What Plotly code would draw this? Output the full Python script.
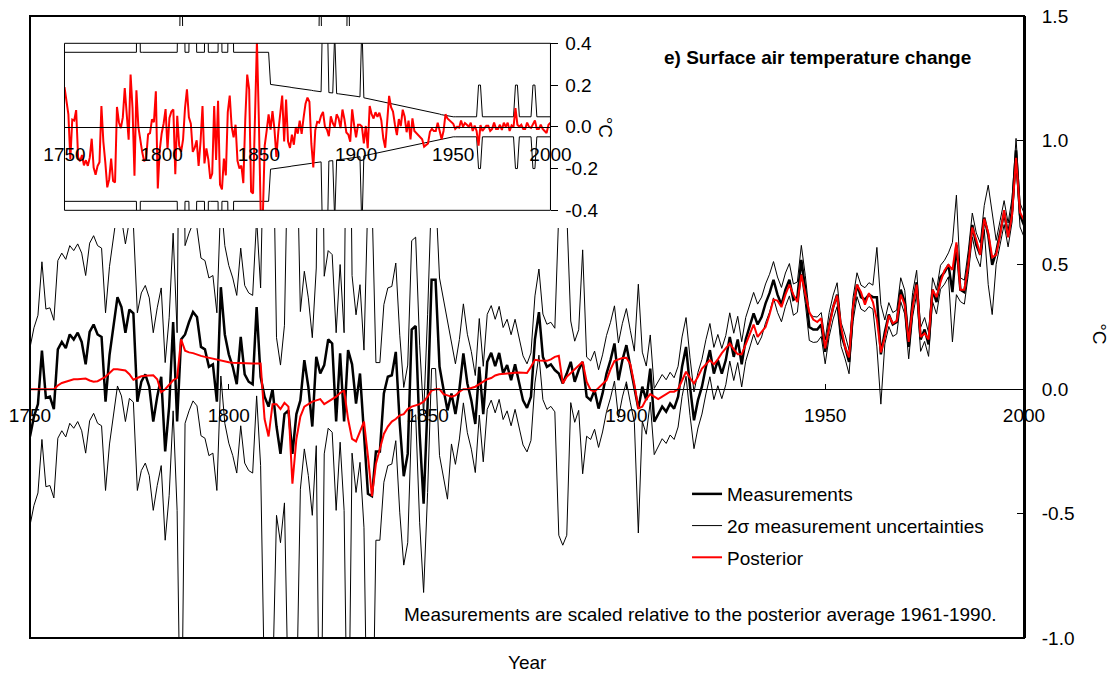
import plotly.graph_objects as go

# ---------------- data ----------------
years = list(range(1750, 2001))

measurement = [
    -0.19, -0.11, -0.06, 0.155, -0.035, -0.03, -0.08, 0.16, 0.19, 0.165,      # 1750s
    0.22, 0.20, 0.227, 0.19, 0.10, 0.23, 0.26, 0.22, 0.21, -0.05,             # 1760s
    0.137, 0.25, 0.37, 0.33, 0.227, 0.32, 0.305, -0.05, 0.03, 0.06,           # 1770s
    0.01, -0.13, -0.03, 0.05, -0.25, -0.07, 0.27, -0.13, 0.20, 0.22,          # 1780s
    0.27, 0.31, 0.29, 0.17, 0.16, 0.09, 0.10, -0.05, 0.41, 0.22,              # 1790s
    0.14, 0.09, 0.02, 0.21, 0.06, 0.03, 0.02, 0.33, 0.05, -0.03,              # 1800s
    -0.07, 0.00, -0.15, -0.26, -0.10, -0.085, -0.26, -0.10, -0.045, 0.117,    # 1810s
    0.01, -0.15, 0.13, 0.063, 0.097, 0.20, 0.184, -0.13, 0.144, -0.13,        # 1820s
    0.157, 0.10, -0.058, 0.063, -0.20, -0.42, -0.43, -0.25, -0.25, -0.017,    # 1830s
    0.05, 0.056, 0.15, -0.14, -0.35, -0.26, 0.24, 0.254, -0.18, -0.46,        # 1840s
    -0.058, 0.44, 0.44, 0.09, 0.00, -0.085, -0.017, -0.10, 0.00, 0.144,       # 1850s
    0.023, -0.045, -0.14, 0.09, -0.10, 0.11, 0.146, 0.093, 0.146, 0.063,      # 1860s
    0.097, 0.036, 0.10, 0.023, -0.045, -0.075, -0.03, 0.20, 0.31, 0.13,       # 1870s
    0.09, 0.10, 0.077, 0.063, 0.023, 0.063, 0.11, 0.03, 0.077, 0.11,         # 1880s
    -0.03, -0.044, -0.004, -0.078, -0.017, 0.063, 0.117, 0.184, 0.036, 0.117, # 1890s
    0.177, 0.09, 0.01, -0.078, 0.01, -0.044, 0.083, -0.13, -0.10, -0.07,      # 1900s
    -0.09, -0.058, -0.078, -0.03, 0.09, 0.17, 0.01, -0.125, -0.044, 0.01,     # 1910s
    0.09, 0.157, 0.063, 0.117, 0.063, 0.117, 0.21, 0.13, 0.20, 0.10,          # 1920s
    0.20, 0.25, 0.305, 0.26, 0.29, 0.345, 0.386, 0.44, 0.38, 0.34,            # 1930s
    0.40, 0.44, 0.36, 0.37, 0.52, 0.40, 0.25, 0.24, 0.24, 0.26,               # 1940s
    0.15, 0.26, 0.33, 0.38, 0.22, 0.17, 0.11, 0.32, 0.42, 0.37,               # 1950s
    0.36, 0.38, 0.37, 0.37, 0.14, 0.23, 0.30, 0.26, 0.27, 0.40,               # 1960s
    0.35, 0.17, 0.34, 0.43, 0.20, 0.24, 0.18, 0.40, 0.35, 0.45,               # 1970s
    0.47, 0.50, 0.39, 0.58, 0.40, 0.39, 0.51, 0.66, 0.58, 0.54,               # 1980s
    0.69, 0.62, 0.50, 0.55, 0.63, 0.71, 0.62, 0.72, 0.96, 0.70,               # 1990s
    0.66,                                                                      # 2000
]

posterior = [
    0.0, 0.0, 0.0, 0.0, 0.0, 0.0, 0.0, 0.015, 0.025, 0.03,
    0.035, 0.04, 0.04, 0.042, 0.043, 0.035, 0.03, 0.032, 0.04, 0.05,
    0.065, 0.08, 0.08, 0.078, 0.075, 0.06, 0.038, 0.045, 0.052, 0.054,
    0.055, 0.056, 0.04, -0.012, 0.0, 0.02, 0.036, 0.045, 0.2, 0.155,
    0.148, 0.145, 0.138, 0.134, 0.13, 0.126, 0.122, 0.12, 0.115, 0.11,
    0.108, 0.106, 0.105, 0.104, 0.103, 0.103, 0.103, 0.103, 0.103, -0.12,
    -0.19, -0.06, -0.06, -0.08, -0.055, -0.07, -0.38, -0.2, -0.11, -0.07,
    -0.06, -0.05, -0.045, -0.04, -0.06, -0.05, -0.04, -0.03, -0.015, -0.005,
    -0.12, -0.2, -0.21, -0.17, -0.13, -0.27, -0.43, -0.3, -0.24, -0.18,
    -0.15, -0.13, -0.12, -0.105, -0.1, -0.08, -0.07, -0.065, -0.06, -0.05,
    -0.03, -0.005, 0.0, 0.0, -0.02, -0.025, -0.03, -0.025, -0.01, 0.0,
    0.0, 0.005, 0.01, 0.02, 0.03, 0.04, 0.045, 0.055, 0.06, 0.062,
    0.064, 0.065, 0.066, 0.067, 0.066, 0.065, 0.09, 0.118, 0.115, 0.113,
    0.114, 0.12, 0.13, 0.134, 0.023, 0.05, 0.065, 0.08, 0.095, 0.11,
    0.03, -0.003, -0.01, 0.005, 0.02, 0.036, 0.08, 0.113, 0.12, 0.125,
    0.126, 0.1, 0.02, -0.077, -0.07, -0.04, -0.02, -0.03, -0.04, -0.03,
    -0.02, -0.01, -0.01, 0.0, 0.035, 0.07, 0.045, 0.023, 0.05, 0.083,
    0.1, 0.117, 0.1, 0.12, 0.145, 0.165, 0.184, 0.16, 0.14, 0.14,
    0.18, 0.22, 0.26, 0.21, 0.23, 0.25, 0.3, 0.36, 0.356, 0.33,
    0.38, 0.42, 0.38, 0.35, 0.46, 0.38, 0.31, 0.28, 0.27, 0.285,
    0.164, 0.25, 0.33, 0.376, 0.25, 0.17, 0.128, 0.33, 0.42, 0.39,
    0.34, 0.386, 0.35, 0.28, 0.148, 0.21, 0.296, 0.265, 0.275, 0.38,
    0.34, 0.19, 0.33, 0.42, 0.21, 0.225, 0.2, 0.4, 0.37, 0.43,
    0.477, 0.5, 0.48, 0.59, 0.4, 0.4, 0.5, 0.65, 0.6, 0.54,
    0.685, 0.63, 0.53, 0.54, 0.62, 0.72, 0.61, 0.70, 0.93, 0.71,
    0.68,
]

# 2-sigma half width of the measurement uncertainty
uncert_2sigma = [
    0.357, 0.357, 0.357, 0.357, 0.357, 0.357, 0.357, 0.357, 0.357, 0.357,
    0.357, 0.357, 0.357, 0.357, 0.357, 0.357, 0.357, 0.357, 0.357, 0.357,
    0.357, 0.357, 0.357, 0.357, 0.357, 0.357, 0.357, 0.357, 0.357, 0.357,
    0.357, 0.357, 0.357, 0.357, 0.357, 0.357, 0.357, 0.357, 1.8, 0.357,
    0.357, 0.357, 0.357, 0.357, 0.357, 0.357, 0.357, 0.357, 0.357, 0.357,
    0.357, 0.357, 0.357, 0.357, 0.357, 0.357, 0.357, 0.357, 0.357, 1.2,
    1.2, 1.2, 0.357, 0.357, 0.357, 1.2, 1.2, 1.2, 0.357, 0.357,
    0.357, 0.357, 0.357, 1.8, 0.357, 0.357, 0.357, 0.357, 0.357, 0.357,
    1.8, 0.357, 0.357, 0.357, 0.357, 1.2, 1.2, 0.357, 0.357, 0.357,
    0.357, 0.357, 0.357, 0.357, 0.357, 0.357, 0.357, 0.357, 0.357, 0.357,
    0.357, 0.357, 0.357, 0.357, 0.357, 0.357, 0.203, 0.202, 0.200, 0.199,
    0.198, 0.196, 0.195, 0.194, 0.192, 0.191, 0.190, 0.188, 0.187, 0.185,
    0.184, 0.183, 0.181, 0.180, 0.179, 0.177, 0.176, 0.175, 0.173, 0.172,
    0.171, 0.169, 0.168, 0.65, 0.65, 0.65, 0.164, 0.163, 0.162, 0.45,
    0.159, 0.158, 0.157, 0.156, 0.155, 0.153, 0.152, 0.151, 0.150, 0.148,
    0.147, 0.145, 0.143, 0.5, 0.139, 0.137, 0.135, 0.133, 0.131, 0.129,
    0.128, 0.126, 0.124, 0.122, 0.120, 0.118, 0.116, 0.114, 0.112, 0.110,
    0.109, 0.107, 0.105, 0.103, 0.101, 0.099, 0.097, 0.095, 0.093, 0.091,
    0.088, 0.086, 0.084, 0.082, 0.080, 0.078, 0.076, 0.073, 0.071, 0.069,
    0.067, 0.065, 0.063, 0.061, 0.058, 0.056, 0.054, 0.052, 0.050, 0.048,
    0.048, 0.048, 0.048, 0.048, 0.048, 0.048, 0.048, 0.048, 0.048, 0.048,
    0.048, 0.048, 0.048, 0.2, 0.2, 0.048, 0.048, 0.048, 0.048, 0.048,
    0.048, 0.048, 0.048, 0.048, 0.048, 0.048, 0.048, 0.048, 0.048, 0.048,
    0.048, 0.048, 0.2, 0.2, 0.048, 0.048, 0.048, 0.048, 0.048, 0.048,
    0.048, 0.2, 0.2, 0.048, 0.048, 0.048, 0.048, 0.048, 0.048, 0.048,
    0.048,
]

x_ticks = [1750, 1800, 1850, 1900, 1950, 2000]
main_y_ticks = [-1.0, -0.5, 0.0, 0.5, 1.0, 1.5]
main_y_labels = ["-1.0", "-0.5", "0.0", "0.5", "1.0", "1.5"]
inset_y_ticks = [-0.4, -0.2, 0.0, 0.2, 0.4]
inset_y_labels = ["-0.4", "-0.2", "0.0", "0.2", "0.4"]

# derived series
upper = [m + u for m, u in zip(measurement, uncert_2sigma)]
lower = [m - u for m, u in zip(measurement, uncert_2sigma)]
neg_unc = [-u for u in uncert_2sigma]
residual = [p - m for p, m in zip(posterior, measurement)]

FONT = "Liberation Sans, Arial, sans-serif"
FS = 19

fig = go.Figure()

# main panel
fig.add_trace(go.Scatter(x=years, y=upper, mode="lines", name="2σ measurement uncertainties",
                         legendgroup="unc", legendrank=2,
                         line=dict(color="black", width=1)))
fig.add_trace(go.Scatter(x=years, y=lower, mode="lines", showlegend=False, legendgroup="unc",
                         line=dict(color="black", width=1)))
fig.add_trace(go.Scatter(x=years, y=measurement, mode="lines", name="Measurements",
                         legendgroup="meas", legendrank=1,
                         line=dict(color="black", width=2.5)))
fig.add_trace(go.Scatter(x=years, y=posterior, mode="lines", name="Posterior",
                         legendgroup="post", legendrank=3,
                         line=dict(color="#ff0000", width=2)))

# inset panel
fig.add_trace(go.Scatter(x=years, y=uncert_2sigma, mode="lines", xaxis="x3", yaxis="y3",
                         showlegend=False, line=dict(color="black", width=1)))
fig.add_trace(go.Scatter(x=years, y=neg_unc, mode="lines", xaxis="x3", yaxis="y3",
                         showlegend=False, line=dict(color="black", width=1)))
fig.add_trace(go.Scatter(x=years, y=residual, mode="lines", xaxis="x3", yaxis="y3",
                         showlegend=False, line=dict(color="#ff0000", width=2)))

fig.update_layout(
    template="none",
    width=1114, height=677,
    margin=dict(l=30, r=90, t=16, b=39, autoexpand=False),
    paper_bgcolor="white", plot_bgcolor="white",
    font=dict(family=FONT, size=FS, color="black"),
    showlegend=True,
    legend=dict(x=0.661, y=0.262, xanchor="left", yanchor="top",
                bgcolor="rgba(0,0,0,0)", borderwidth=0,
                traceorder="grouped", tracegroupgap=4,
                font=dict(family=FONT, size=FS, color="black")),
    xaxis=dict(domain=[0, 1], range=[1750, 2000], anchor="free", position=0.4,
               automargin=False,
               showline=True, linecolor="black", linewidth=1,
               ticks="inside", ticklen=5, tickcolor="black",
               tickvals=x_ticks, ticktext=[str(t) for t in x_ticks],
               showgrid=False, zeroline=False, ticklabelstandoff=9),
    yaxis=dict(domain=[0, 1], range=[-1.0, 1.5], side="right", anchor="x",
               automargin=False,
               showline=True, linecolor="black", linewidth=2,
               ticks="inside", ticklen=7, tickcolor="black",
               tickvals=main_y_ticks, ticktext=main_y_labels,
               showgrid=False, zeroline=False, ticklabelstandoff=12),
    # white mask behind the inset
    xaxis2=dict(domain=[0.002, 0.5734], range=[0, 1], anchor="y2", visible=False,
                automargin=False),
    yaxis2=dict(domain=[0.6592, 0.9839], range=[0, 1], anchor="x2", visible=False,
                automargin=False),
    # inset axes
    xaxis3=dict(domain=[0.0347, 0.5236], range=[1750, 2000], anchor="free", position=0.822,
                automargin=False,
                showline=True, linecolor="black", linewidth=1, ticks="",
                tickvals=x_ticks, ticktext=[str(t) for t in x_ticks],
                showgrid=False, zeroline=False, ticklabelstandoff=10),
    yaxis3=dict(domain=[0.6876, 0.9561], range=[-0.4, 0.4], side="right", anchor="x3",
                automargin=False,
                showline=True, linecolor="black", linewidth=1,
                ticks="outside", ticklen=7, tickcolor="black",
                tickvals=inset_y_ticks, ticktext=inset_y_labels,
                showgrid=False, zeroline=False, ticklabelstandoff=3),
    shapes=[
        dict(type="rect", xref="x2", yref="y2", x0=0, x1=1, y0=0, y1=1,
             fillcolor="white", line=dict(width=0), layer="below"),
        dict(type="rect", xref="x3 domain", yref="y3 domain", x0=0, x1=1, y0=0, y1=1,
             line=dict(color="black", width=1), layer="above"),
        dict(type="rect", xref="paper", yref="paper", x0=0, x1=1, y0=0, y1=1,
             line=dict(color="black", width=2), layer="above"),
    ],
    annotations=[
        dict(text="<b>e) Surface air temperature change</b>", x=0.7918, y=0.934,
             xref="paper", yref="paper", showarrow=False, xanchor="center", yanchor="middle",
             font=dict(size=FS)),
        dict(text="Measurements are scaled relative to the posterior average 1961-1990.",
             x=0.675, y=0.037, xref="paper", yref="paper", showarrow=False,
             xanchor="center", yanchor="middle", font=dict(size=FS)),
        dict(text="Year", x=0.5, y=-0.040, xref="paper", yref="paper", showarrow=False,
             xanchor="center", yanchor="middle", font=dict(size=FS)),
        dict(text="°C", x=1.0765, y=0.49, xref="paper", yref="paper", showarrow=False,
             xanchor="center", yanchor="middle", textangle=90, font=dict(size=FS)),
        dict(text="°C", x=0.5785, y=0.822, xref="paper", yref="paper", showarrow=False,
             xanchor="center", yanchor="middle", textangle=90, font=dict(size=FS)),
    ],
)

fig.write_html("out.html", config={"displayModeBar": False},
               post_script="document.body.style.margin='0px';")
